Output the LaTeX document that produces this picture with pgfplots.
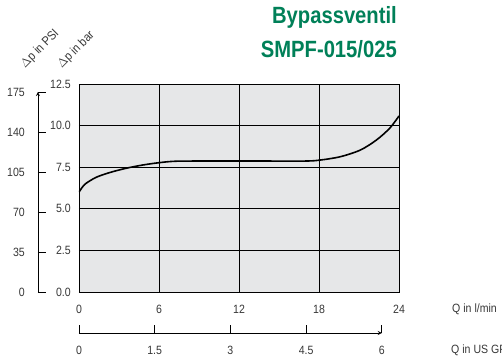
\documentclass[border=0pt]{standalone}
\usepackage{pgfplots}
\pgfplotsset{compat=1.18}
\usepackage{fontspec}
\setmainfont{Liberation Sans}
\newfontfamily\titlefont[FakeStretch=0.86]{Liberation Sans}
\newfontfamily\condfont[FakeStretch=0.88]{Liberation Sans}
\definecolor{titlegreen}{RGB}{0,128,88}
\definecolor{plotbg}{RGB}{230,231,232}
\definecolor{txt}{RGB}{55,55,55}
\begin{document}
\begin{tikzpicture}
\useasboundingbox (-79pt,-64pt) rectangle (423pt,292pt);
\pgfplotsset{
  every axis/.append style={scale only axis,
    /pgf/number format/assume math mode=true,
    tick label style={font=\condfont\fontsize{12}{14}\selectfont, text=txt, inner sep=0pt},
    axis line style={line width=0.8pt},
    every tick/.style={black, line width=0.8pt}},
}
% main plot (bar over l/min)
\begin{axis}[at={(0pt,0pt)}, anchor=south west, width=320pt, height=208pt,
  xmin=0, xmax=24, ymin=0, ymax=12.5,
  xtick={0,6,12,18,24}, ytick={0,2.5,5,7.5,10,12.5},
  grid=major, grid style={black, line width=0.8pt},
  axis background/.style={fill=plotbg},
  major tick length=0pt,
  yticklabel style={anchor=east, xshift=-8pt, /pgf/number format/.cd, fixed, fixed zerofill, precision=1},
  xticklabel style={anchor=center, yshift=-17pt},
]
\addplot[black, line width=1.6pt, smooth] coordinates {
(0,6.0) (0.25,6.3) (0.53,6.53) (1.28,6.89) (2.27,7.17) (3.5,7.43) (4.77,7.63) (6,7.77) (7.3,7.86)
(10,7.87) (14,7.87) (17,7.87) (18.1,7.93) (19.6,8.13) (21.1,8.53) (22.3,9.13) (23.3,9.84) (24,10.58)
};
\end{axis}
% PSI axis
\begin{axis}[at={(-41pt,0pt)}, anchor=south west, width=10pt, height=200pt,
  ymin=0, ymax=175, ytick={0,35,70,105,140,175},
  axis y line=left, axis x line=none, xmin=0, xmax=1,
  tick align=inside, major tick length=8pt,
  yticklabel style={anchor=east, xshift=-13pt},
]
\addplot[draw=none] coordinates {(0,0)};
\end{axis}
% GPM axis
\begin{axis}[at={(0pt,-41pt)}, anchor=south west, width=302.8pt, height=10pt,
  xmin=0, xmax=6, xtick={0,1.5,3,4.5,6},
  axis x line=bottom, axis y line=none, ymin=0, ymax=1,
  tick align=inside, major tick length=8pt,
  xticklabel style={anchor=center, yshift=-17pt},
]
\addplot[draw=none] coordinates {(0,0)};
\end{axis}
% texts
\node[anchor=west, text=txt, font=\condfont\fontsize{12}{14}\selectfont, inner sep=0pt] at (373pt,-17pt) {Q in l/min};
\node[anchor=west, text=txt, font=\condfont\fontsize{12}{14}\selectfont, inner sep=0pt] at (372pt,-58pt) {Q in US GPM};
\node[rotate=45, text=txt, font=\condfont\fontsize{12.5}{14}\selectfont, inner sep=0pt] at (-39pt,243pt) {$\Delta$p in PSI};
\node[rotate=45, text=txt, font=\condfont\fontsize{12.5}{14}\selectfont, inner sep=0pt] at (-3pt,242pt) {$\Delta$p in bar};
\node[anchor=east, text=titlegreen, font=\titlefont\bfseries\fontsize{23.5}{26}\selectfont, inner sep=0pt] at (318pt,275pt) {Bypassventil};
\node[anchor=east, text=titlegreen, font=\titlefont\bfseries\fontsize{23.5}{26}\selectfont, inner sep=0pt] at (318pt,243pt) {SMPF-015/025};
\end{tikzpicture}
\end{document}
